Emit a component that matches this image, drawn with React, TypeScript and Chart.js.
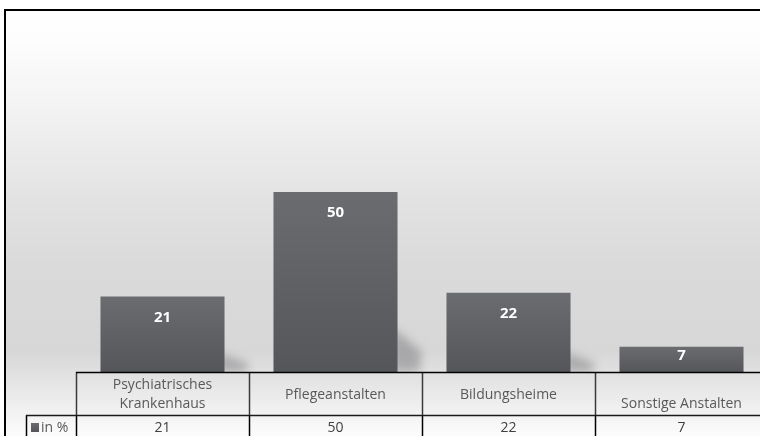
import React, { useEffect, useRef } from "react";
import { Chart, registerables } from "chart.js";
Chart.register(...registerables);

const categories: string[][] = [
  ["Psychiatrisches", "Krankenhaus"],
  ["Pflegeanstalten"],
  ["Bildungsheime"],
  ["", "Sonstige Anstalten"],
];
const values: number[] = [21, 50, 22, 7];
const seriesName = "in %";
const yMax = 100;

const FONT = "'Open Sans', Lato, sans-serif";
const W = 800;
const H = 460;

const barGradient = (ctx: CanvasRenderingContext2D, top: number, bottom: number) => {
  const g = ctx.createLinearGradient(0, top, 0, bottom);
  g.addColorStop(0, "#6b6c6f");
  g.addColorStop(1, "#55565a");
  return g;
};

const bgPlugin = {
  id: "bg",
  beforeDraw(chart: any) {
    const ctx = chart.ctx as CanvasRenderingContext2D;
    ctx.save();
    const g = ctx.createLinearGradient(0, 10, 0, 436);
    g.addColorStop(0, "#ffffff");
    g.addColorStop(0.07, "#fdfdfd");
    g.addColorStop(0.21, "#f4f4f4");
    g.addColorStop(0.45, "#e2e2e2");
    g.addColorStop(0.6, "#dadada");
    g.addColorStop(0.8, "#d7d7d7");
    g.addColorStop(0.85, "#e0e0e0");
    g.addColorStop(0.95, "#f3f3f3");
    g.addColorStop(1, "#fcfcfc");
    ctx.fillStyle = g;
    ctx.fillRect(5, 10, W, H);
    ctx.strokeStyle = "#000";
    ctx.lineWidth = 2;
    ctx.strokeRect(5, 10, W + 20, H + 20);
    ctx.restore();
  },
};

const shadowPlugin = {
  id: "barShadow",
  beforeDatasetsDraw(chart: any) {
    const ctx = chart.ctx as CanvasRenderingContext2D;
    const area = chart.chartArea;
    const meta = chart.getDatasetMeta(0);
    ctx.save();
    ctx.beginPath();
    ctx.rect(area.left, area.top, W, area.bottom - area.top);
    ctx.clip();
    ctx.filter = "blur(5px)";
    meta.data.forEach((el: any) => {
      const right = el.x + el.width / 2;
      const h = el.base - el.y;
      const sh = h * 0.25;
      if (sh < 10) return;
      ctx.fillStyle = "rgba(90,90,94,0.38)";
      ctx.beginPath();
      ctx.moveTo(right - 6, el.base);
      ctx.lineTo(right - 6, el.base - sh);
      ctx.lineTo(right + 24, el.base - sh * 0.45);
      ctx.lineTo(right + 22, el.base);
      ctx.closePath();
      ctx.fill();
    });
    ctx.restore();
  },
};

const labelPlugin = {
  id: "barLabels",
  afterDatasetsDraw(chart: any) {
    const ctx = chart.ctx as CanvasRenderingContext2D;
    const meta = chart.getDatasetMeta(0);
    ctx.save();
    ctx.fillStyle = "#ffffff";
    ctx.font = `bold 15px ${FONT}`;
    ctx.textAlign = "center";
    ctx.textBaseline = "middle";
    meta.data.forEach((el: any, i: number) => {
      const h = el.base - el.y;
      const y = el.y + Math.min(21, h / 2 - 4);
      ctx.fillText(String(values[i]), el.x, y);
    });
    ctx.restore();
  },
};

const tablePlugin = {
  id: "dataTable",
  afterDraw(chart: any) {
    const ctx = chart.ctx as CanvasRenderingContext2D;
    const area = chart.chartArea;
    const n = categories.length;
    const cw = (area.right - area.left) / n;
    const y0 = area.bottom;
    const y1 = y0 + 43;
    ctx.save();
    ctx.strokeStyle = "#3a3a3a";
    ctx.lineWidth = 1.5;
    for (let i = 0; i <= n; i++) {
      const x = Math.round(area.left + i * cw) + 0.5;
      ctx.beginPath();
      ctx.moveTo(x, y0);
      ctx.lineTo(x, y1);
      ctx.stroke();
    }
    ctx.strokeStyle = "#000";
    for (let i = 0; i <= n; i++) {
      const x = Math.round(area.left + i * cw) + 0.5;
      ctx.beginPath();
      ctx.moveTo(x, y1);
      ctx.lineTo(x, H);
      ctx.stroke();
    }
    ctx.beginPath();
    ctx.moveTo(26.5, y1);
    ctx.lineTo(26.5, H);
    ctx.stroke();
    ctx.beginPath();
    ctx.moveTo(area.left, y0 + 0.5);
    ctx.lineTo(W, y0 + 0.5);
    ctx.stroke();
    ctx.strokeStyle = "#1a1a1a";
    ctx.beginPath();
    ctx.moveTo(26, y1 + 0.5);
    ctx.lineTo(W, y1 + 0.5);
    ctx.stroke();

    ctx.font = `14px ${FONT}`;
    ctx.textAlign = "center";
    ctx.textBaseline = "middle";
    ctx.fillStyle = "#595959";
    categories.forEach((lines, i) => {
      const cx = area.left + (i + 0.5) * cw;
      const lh = 19;
      const mid = (y0 + y1) / 2 + 1.5;
      const start = mid - ((lines.length - 1) * lh) / 2;
      lines.forEach((t, j) => ctx.fillText(t, cx, start + j * lh));
    });
    ctx.fillStyle = "#404040";
    values.forEach((v, i) => {
      const cx = area.left + (i + 0.5) * cw;
      ctx.fillText(String(v), cx, y1 + 13);
    });
    ctx.fillStyle = barGradient(ctx, y1 + 8, y1 + 17);
    ctx.fillRect(31, y1 + 8, 8, 9);
    ctx.fillStyle = "#595959";
    ctx.textAlign = "left";
    ctx.fillText(seriesName, 41, y1 + 13);
    ctx.restore();
  },
};

export default function App() {
  const ref = useRef<HTMLCanvasElement | null>(null);
  useEffect(() => {
    if (!ref.current) return;
    const chart = new Chart(ref.current, {
      type: "bar",
      data: {
        labels: categories,
        datasets: [
          {
            label: seriesName,
            data: values,
            backgroundColor: (c: any) => {
              const ch = c.chart;
              const ys = ch.scales?.y;
              if (!ys || c.parsed == null) return "#5f6063";
              const top = ys.getPixelForValue(c.parsed.y);
              const bottom = ys.getPixelForValue(0);
              if (!isFinite(top) || !isFinite(bottom) || top === bottom) return "#5f6063";
              return barGradient(ch.ctx, top, bottom);
            },
            borderWidth: 0,
            categoryPercentage: 1,
            barPercentage: 0.717,
          },
        ],
      },
      options: {
        responsive: false,
        animation: false,
        layout: { padding: { left: 76, right: W - 768, top: 12, bottom: H - 372 } },
        plugins: { legend: { display: false }, tooltip: { enabled: false }, title: { display: false } },
        scales: {
          x: { display: false, grid: { display: false } },
          y: { display: false, min: 0, max: yMax },
        },
      },
      plugins: [bgPlugin, shadowPlugin, labelPlugin, tablePlugin],
    });
    return () => chart.destroy();
  }, []);
  return (
    <div style={{ position: "absolute", left: 0, top: 0, width: 760, height: 436, overflow: "hidden", background: "#fff" }}>
      <canvas ref={ref} width={W} height={H} style={{ width: W, height: H, display: "block" }} />
    </div>
  );
}
